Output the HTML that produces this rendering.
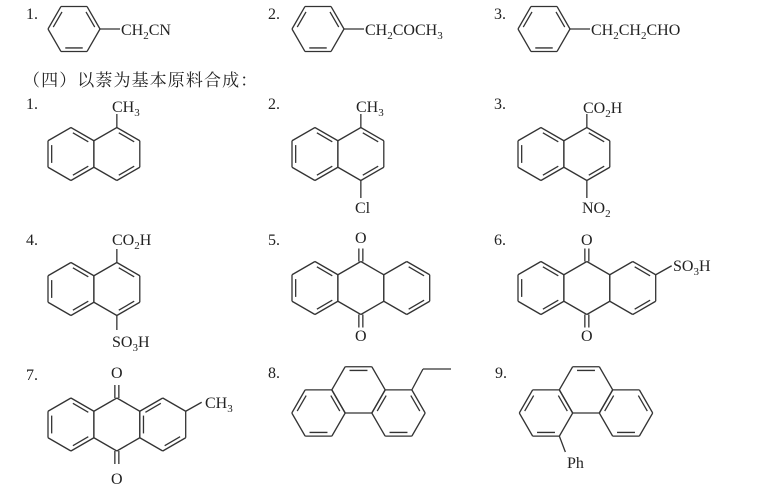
<!DOCTYPE html>
<html><head><meta charset="utf-8">
<style>
html,body{margin:0;padding:0;background:#fff;}
svg{display:block;}
text{font-family:"Liberation Serif","Noto Serif CJK SC",serif;font-size:16px;fill:#222;}
.cn{font-family:"Liberation Serif","Noto Serif CJK SC","Noto Sans CJK SC",serif;font-size:17px;letter-spacing:1.1px;}
</style></head>
<body>
<svg id="s" width="761" height="491" viewBox="0 0 761 491" xmlns="http://www.w3.org/2000/svg">
<g id="g" stroke="#333" stroke-width="1.3" fill="none"></g>
<g id="t">
<text x="26" y="19">1.</text><text x="268" y="19">2.</text><text x="494" y="19">3.</text>
<text x="121" y="35">CH<tspan font-size="11" dy="4">2</tspan><tspan dy="-4">CN</tspan></text>
<text x="365" y="35">CH<tspan font-size="11" dy="4">2</tspan><tspan dy="-4">COCH</tspan><tspan font-size="11" dy="4">3</tspan></text>
<text x="591" y="35">CH<tspan font-size="11" dy="4">2</tspan><tspan dy="-4">CH</tspan><tspan font-size="11" dy="4">2</tspan><tspan dy="-4">CHO</tspan></text>
<text class="cn" x="23" y="86">（四）以萘为基本原料合成：</text>
<text x="26" y="109">1.</text><text x="268" y="109">2.</text><text x="494" y="109">3.</text>
<text x="112" y="112">CH<tspan font-size="11" dy="4">3</tspan></text>
<text x="356" y="112">CH<tspan font-size="11" dy="4">3</tspan></text>
<text x="355" y="213">Cl</text>
<text x="583" y="113">CO<tspan font-size="11" dy="4">2</tspan><tspan dy="-4">H</tspan></text>
<text x="582" y="213">NO<tspan font-size="11" dy="4">2</tspan></text>
<text x="26" y="245">4.</text><text x="268" y="245">5.</text><text x="494" y="245">6.</text>
<text x="112" y="245">CO<tspan font-size="11" dy="4">2</tspan><tspan dy="-4">H</tspan></text>
<text x="112" y="347">SO<tspan font-size="11" dy="4">3</tspan><tspan dy="-4">H</tspan></text>
<text x="355" y="243">O</text><text x="355" y="341">O</text>
<text x="581" y="245">O</text><text x="581" y="341">O</text>
<text x="673" y="271">SO<tspan font-size="11" dy="4">3</tspan><tspan dy="-4">H</tspan></text>
<text x="26" y="380">7.</text><text x="268" y="378">8.</text><text x="495" y="378">9.</text>
<text x="111" y="378">O</text><text x="111" y="484">O</text>
<text x="205" y="408">CH<tspan font-size="11" dy="4">3</tspan></text>
<text x="567" y="468">Ph</text>
</g>
</svg>
<script>
var G=document.getElementById('g'),NS='http://www.w3.org/2000/svg';
function L(x1,y1,x2,y2){var l=document.createElementNS(NS,'line');l.setAttribute('x1',x1);l.setAttribute('y1',y1);l.setAttribute('x2',x2);l.setAttribute('y2',y2);G.appendChild(l);}
function V(cx,cy,r,t,k){var a=(t=='p'?-90+60*k:60*k)*Math.PI/180;return [cx+r*Math.cos(a),cy+r*Math.sin(a)];}
function ring(cx,cy,r,t,d){
 for(var k=0;k<6;k++){var p=V(cx,cy,r,t,k),q=V(cx,cy,r,t,(k+1)%6);L(p[0],p[1],q[0],q[1]);}
 d.forEach(function(e){var p=V(cx,cy,r,t,e),q=V(cx,cy,r,t,(e+1)%6),f=0.16;
  var a=[p[0]+(cx-p[0])*f,p[1]+(cy-p[1])*f],b=[q[0]+(cx-q[0])*f,q[1]+(cy-q[1])*f];
  var s=0.1;L(a[0]+(b[0]-a[0])*s,a[1]+(b[1]-a[1])*s,b[0]-(b[0]-a[0])*s,b[1]-(b[1]-a[1])*s);});
}
[[74,120],[318,364],[544,590]].forEach(function(b){ring(b[0],29,26,'f',[1,3,5]);L(b[0]+26,29,b[1],29);});
var R=26.5,W=R*Math.cos(Math.PI/6);
function naph(x0,cy){ring(x0+W,cy,R,'p',[0,2,4]);ring(x0+3*W,cy,R,'p',[0,2]);return x0+3*W;}
var c;
c=naph(48,154);L(c,154-R,c,114);
c=naph(292,154);L(c,154-R,c,114);L(c,154+R,c,198);
c=naph(518,154);L(c,154-R,c,114);L(c,154+R,c,198);
c=naph(48,289);L(c,289-R,c,249);L(c,289+R,c,330);
function aq(x0,cy,rd){ring(x0+W,cy,R,'p',[0,2,4]);ring(x0+3*W,cy,R,'p',[]);ring(x0+5*W,cy,R,'p',rd);
 var m=x0+3*W;L(m-2,cy-R,m-2,cy-R-13);L(m+2,cy-R,m+2,cy-R-13);L(m-2,cy+R,m-2,cy+R+13);L(m+2,cy+R,m+2,cy+R+13);return x0+5*W;}
aq(292,288,[0,2]);
c=aq(518,288,[0,2]);var p=V(c,288,R,'p',1);L(p[0],p[1],p[0]+16,p[1]-9);
c=aq(48,424.5,[2,4,5]);p=V(c,424.5,R,'p',1);L(p[0],p[1],p[0]+16,p[1]-9);
var r2=26.7,h=r2*Math.sqrt(3)/2;
function phen(lx,tx,rx){ring(lx,413,r2,'f',[1,3,5]);ring(tx,413-h,r2,'f',[4]);ring(rx,413,r2,'f',[1,3,5]);}
phen(318.5,358.5,398.5);p=V(398.5,413,r2,'f',5);L(p[0],p[1],423,369);L(423,369,451,369);
phen(546,586,626);p=V(546,413,r2,'f',1);L(p[0],p[1],p[0]+6,452);
</script>
</body></html>
